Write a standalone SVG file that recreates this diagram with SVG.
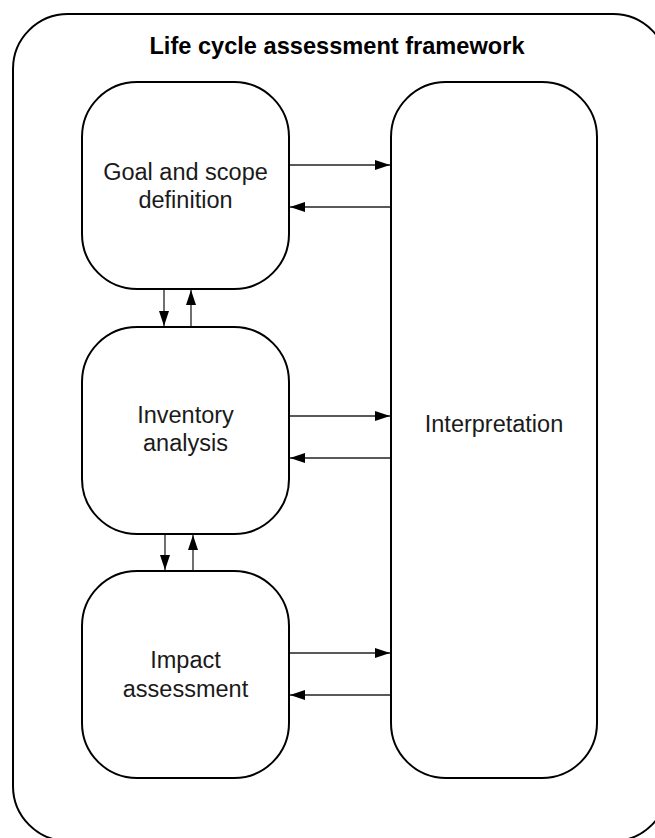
<svg xmlns="http://www.w3.org/2000/svg" width="655" height="838" viewBox="0 0 655 838">
<style>
.box{fill:#fff;stroke:#000;stroke-width:2}
.lbl{font-family:"Liberation Sans",Arial,sans-serif;font-size:23.5px;fill:#1a1a1a;text-anchor:middle}
.title{font-family:"Liberation Sans",Arial,sans-serif;font-size:23.6px;font-weight:bold;fill:#000;text-anchor:middle}
.con{stroke:#222;stroke-width:1.3;fill:none;marker-end:url(#ah)}
</style>
<defs>
<marker id="ah" markerUnits="userSpaceOnUse" markerWidth="16" markerHeight="10" refX="15" refY="5" orient="auto">
<path d="M0,0 L15,5 L0,10 Z" fill="#000"/>
</marker>
</defs>
<rect width="655" height="838" fill="#fff"/>
<g id="framework">
<rect class="box" x="13" y="14" width="655" height="827" rx="55" ry="55"/>
<text class="title" x="337" y="54">Life cycle assessment framework</text>
</g>
<g id="goal">
<rect class="box" x="82" y="82" width="207" height="207" rx="55" ry="55"/>
<text class="lbl" x="185.5" y="180">Goal and scope</text>
<text class="lbl" x="185.5" y="208">definition</text>
</g>
<g id="inventory">
<rect class="box" x="82" y="327" width="207" height="207" rx="55" ry="55"/>
<text class="lbl" x="185.5" y="423">Inventory</text>
<text class="lbl" x="185.5" y="451">analysis</text>
</g>
<g id="impact">
<rect class="box" x="82" y="571" width="207" height="207" rx="55" ry="55"/>
<text class="lbl" x="185.5" y="668">Impact</text>
<text class="lbl" x="185.5" y="697">assessment</text>
</g>
<g id="interpretation">
<rect class="box" x="391" y="82" width="206" height="696" rx="55" ry="55"/>
<text class="lbl" x="494" y="432">Interpretation</text>
</g>
<g id="connectors">
<line class="con" x1="290" y1="165" x2="390" y2="165"/>
<line class="con" x1="390" y1="207" x2="290" y2="207"/>
<line class="con" x1="290" y1="416" x2="390" y2="416"/>
<line class="con" x1="390" y1="458" x2="290" y2="458"/>
<line class="con" x1="290" y1="653" x2="390" y2="653"/>
<line class="con" x1="390" y1="695" x2="290" y2="695"/>
<line class="con" x1="164" y1="290" x2="164" y2="326"/>
<line class="con" x1="191" y1="326" x2="191" y2="290"/>
<line class="con" x1="165" y1="535" x2="165" y2="570"/>
<line class="con" x1="193" y1="570" x2="193" y2="535"/>
</g>
</svg>
